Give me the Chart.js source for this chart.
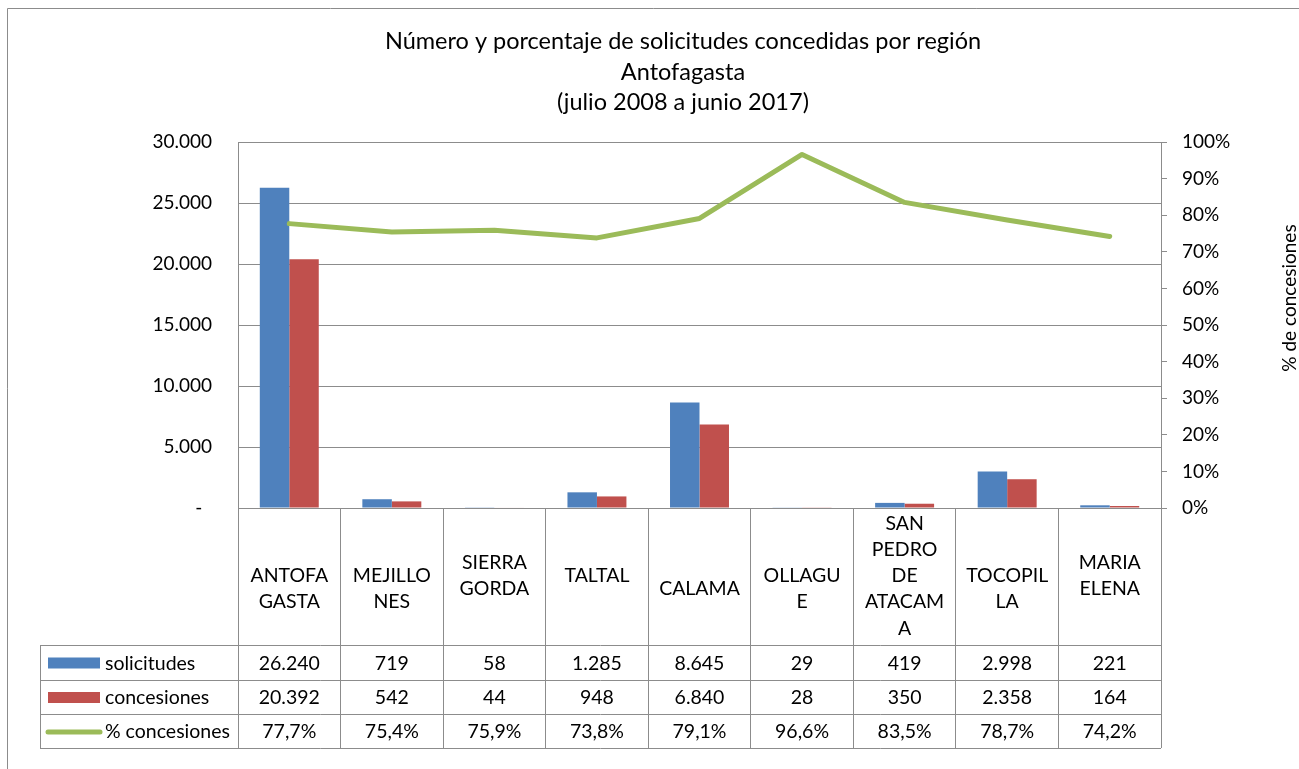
<!DOCTYPE html>
<html>
<head>
<meta charset="utf-8">
<script src="https://cdn.jsdelivr.net/npm/chart.js@4.4.1/dist/chart.umd.min.js"></script>
<style>
    html, body { margin: 0; padding: 0; background: #ffffff; }
</style>
</head>
<body>
<canvas id="chart" width="1299" height="769"></canvas>
<script>

// category labels, wrapped the way the original table shows them
const categories = [
    ["ANTOFA", "GASTA"],
    ["MEJILLO", "NES"],
    ["SIERRA", "GORDA", ""],
    ["TALTAL", ""],
    ["CALAMA"],
    ["OLLAGU", "E"],
    ["SAN", "PEDRO", "DE", "ATACAM", "A", ""],
    ["TOCOPIL", "LA"],
    ["MARIA", "ELENA", ""]
];

const solicitudes = [26240, 719, 58, 1285, 8645, 29, 419, 2998, 221];
const concesiones = [20392, 542, 44, 948, 6840, 28, 350, 2358, 164];
const porcentaje = [77.7, 75.4, 75.9, 73.8, 79.1, 96.6, 83.5, 78.7, 74.2];

const seriesNames = ["solicitudes", "concesiones", "% concesiones"];

const titleLines = [
    "Número y porcentaje de solicitudes concedidas por región",
    "Antofagasta",
    "(julio 2008 a junio 2017)"
];

const rightAxisTitle = "% de concesiones";

const BLUE = "#4F81BD";
const RED = "#C0504D";
const GREEN = "#9BBB59";
const GRAY = "#8c8c8c";
const FONT = "Lato, 'Noto Sans', sans-serif";

function formatNumber(n) {
    return String(n).replace(/\B(?=(\d{3})+(?!\d))/g, ".");
}

function formatPercent(p) {
    return p.toFixed(1).replace(".", ",") + "%";
}

const framePlugin = {
    id: "frame",
    beforeDraw(chart) {
        const ctx = chart.ctx;
        ctx.save();
        ctx.fillStyle = "#ffffff";
        ctx.fillRect(0, 0, chart.width, chart.height);
        ctx.strokeStyle = GRAY;
        ctx.lineWidth = 1;
        ctx.beginPath();
        ctx.moveTo(7.5, chart.height);
        ctx.lineTo(7.5, 8.5);
        ctx.lineTo(chart.width, 8.5);
        ctx.stroke();
        ctx.restore();
    }
};

const textPlugin = {
    id: "texts",
    afterDraw(chart) {

        const ctx = chart.ctx;
        const xs = chart.scales.x;
        const area = chart.chartArea;

        ctx.save();

        // title
        ctx.fillStyle = "#000000";
        ctx.font = "23.5px " + FONT;
        ctx.textAlign = "center";
        ctx.textBaseline = "middle";
        const titleY = [41, 72, 102];
        titleLines.forEach((line, i) => {
            ctx.fillText(line, 683, titleY[i]);
        });

        // right axis title
        ctx.save();
        ctx.translate(1290, 298);
        ctx.rotate(-Math.PI / 2);
        ctx.font = "19px " + FONT;
        ctx.fillText(rightAxisTitle, 0, 0);
        ctx.restore();

        // data table lines
        const tableLeft = 40;
        const rowLines = [645, 680, 714, 748];
        ctx.strokeStyle = GRAY;
        ctx.lineWidth = 1;
        ctx.beginPath();
        rowLines.forEach(y => {
            ctx.moveTo(tableLeft, y + 0.5);
            ctx.lineTo(area.right, y + 0.5);
        });
        ctx.moveTo(tableLeft + 0.5, rowLines[0]);
        ctx.lineTo(tableLeft + 0.5, rowLines[3] + 1);
        ctx.stroke();

        // category labels
        ctx.font = "19.5px " + FONT;
        ctx.fillStyle = "#000000";
        const labelMid = 589;
        const lineGap = 26.3;
        categories.forEach((lines, i) => {
            const cx = xs.getPixelForValue(i);
            const top = labelMid - (lines.length - 1) * lineGap / 2;
            lines.forEach((line, j) => {
                ctx.fillText(line, cx, top + j * lineGap);
            });
        });

        // values
        const rows = [
            solicitudes.map(formatNumber),
            concesiones.map(formatNumber),
            porcentaje.map(formatPercent)
        ];
        rows.forEach((row, r) => {
            const cy = (rowLines[r] + rowLines[r + 1]) / 2 + 1;
            row.forEach((txt, i) => {
                ctx.fillText(txt, xs.getPixelForValue(i), cy);
            });
        });

        // legend keys in the table
        ctx.textAlign = "left";
        const keyColors = [BLUE, RED];
        seriesNames.forEach((name, r) => {
            const cy = (rowLines[r] + rowLines[r + 1]) / 2 + 1;
            if (r < 2) {
                ctx.fillStyle = keyColors[r];
                ctx.fillRect(48, cy - 6, 52, 11);
            }
            else {
                ctx.strokeStyle = GREEN;
                ctx.lineWidth = 5;
                ctx.lineCap = "round";
                ctx.beginPath();
                ctx.moveTo(48, cy);
                ctx.lineTo(100, cy);
                ctx.stroke();
            }
            ctx.fillStyle = "#000000";
            ctx.fillText(name, 105, cy);
        });

        ctx.restore();
    }
};

new Chart(document.getElementById("chart"), {

    data: {

        labels: categories,

        datasets: [
            {
                type: "line",
                label: seriesNames[2],
                data: porcentaje,
                yAxisID: "y1",
                borderColor: GREEN,
                borderWidth: 5,
                borderCapStyle: "round",
                borderJoinStyle: "round",
                pointRadius: 0,
                tension: 0,
                order: 0
            },
            {
                type: "bar",
                label: seriesNames[0],
                data: solicitudes,
                yAxisID: "y",
                backgroundColor: BLUE,
                categoryPercentage: 0.575,
                barPercentage: 1,
                order: 1
            },
            {
                type: "bar",
                label: seriesNames[1],
                data: concesiones,
                yAxisID: "y",
                backgroundColor: RED,
                categoryPercentage: 0.575,
                barPercentage: 1,
                order: 2
            }
        ]

    },

    options: {

        responsive: false,
        animation: false,
        devicePixelRatio: 1,

        layout: {
            padding: { top: 142, left: 0, right: 0, bottom: 0 }
        },

        plugins: {
            legend: { display: false },
            title: { display: false },
            tooltip: { enabled: false }
        },

        scales: {

            x: {
                offset: true,
                ticks: { display: false },
                grid: {
                    offset: true,
                    drawOnChartArea: false,
                    drawTicks: true,
                    tickLength: 240,
                    color: GRAY
                },
                border: { color: GRAY },
                afterFit(scale) {
                    scale.height = 261;
                }
            },

            y: {
                position: "left",
                min: 0,
                max: 30000,
                ticks: {
                    stepSize: 5000,
                    padding: 26,
                    color: "#000000",
                    font: { family: FONT, size: 19 },
                    callback: v => v === 0 ? "-  " : formatNumber(v)
                },
                grid: {
                    color: GRAY,
                    drawTicks: false
                },
                border: { color: GRAY },
                afterFit(scale) {
                    scale.width = 238;
                }
            },

            y1: {
                position: "right",
                min: 0,
                max: 100,
                ticks: {
                    stepSize: 10,
                    padding: 15,
                    color: "#000000",
                    font: { family: FONT, size: 19 },
                    callback: v => v + "%"
                },
                grid: {
                    drawOnChartArea: false,
                    drawTicks: true,
                    tickLength: 6,
                    color: GRAY
                },
                border: { color: GRAY },
                afterFit(scale) {
                    scale.width = 138;
                }
            }

        }

    },

    plugins: [framePlugin, textPlugin]

});

</script>
</body>
</html>
